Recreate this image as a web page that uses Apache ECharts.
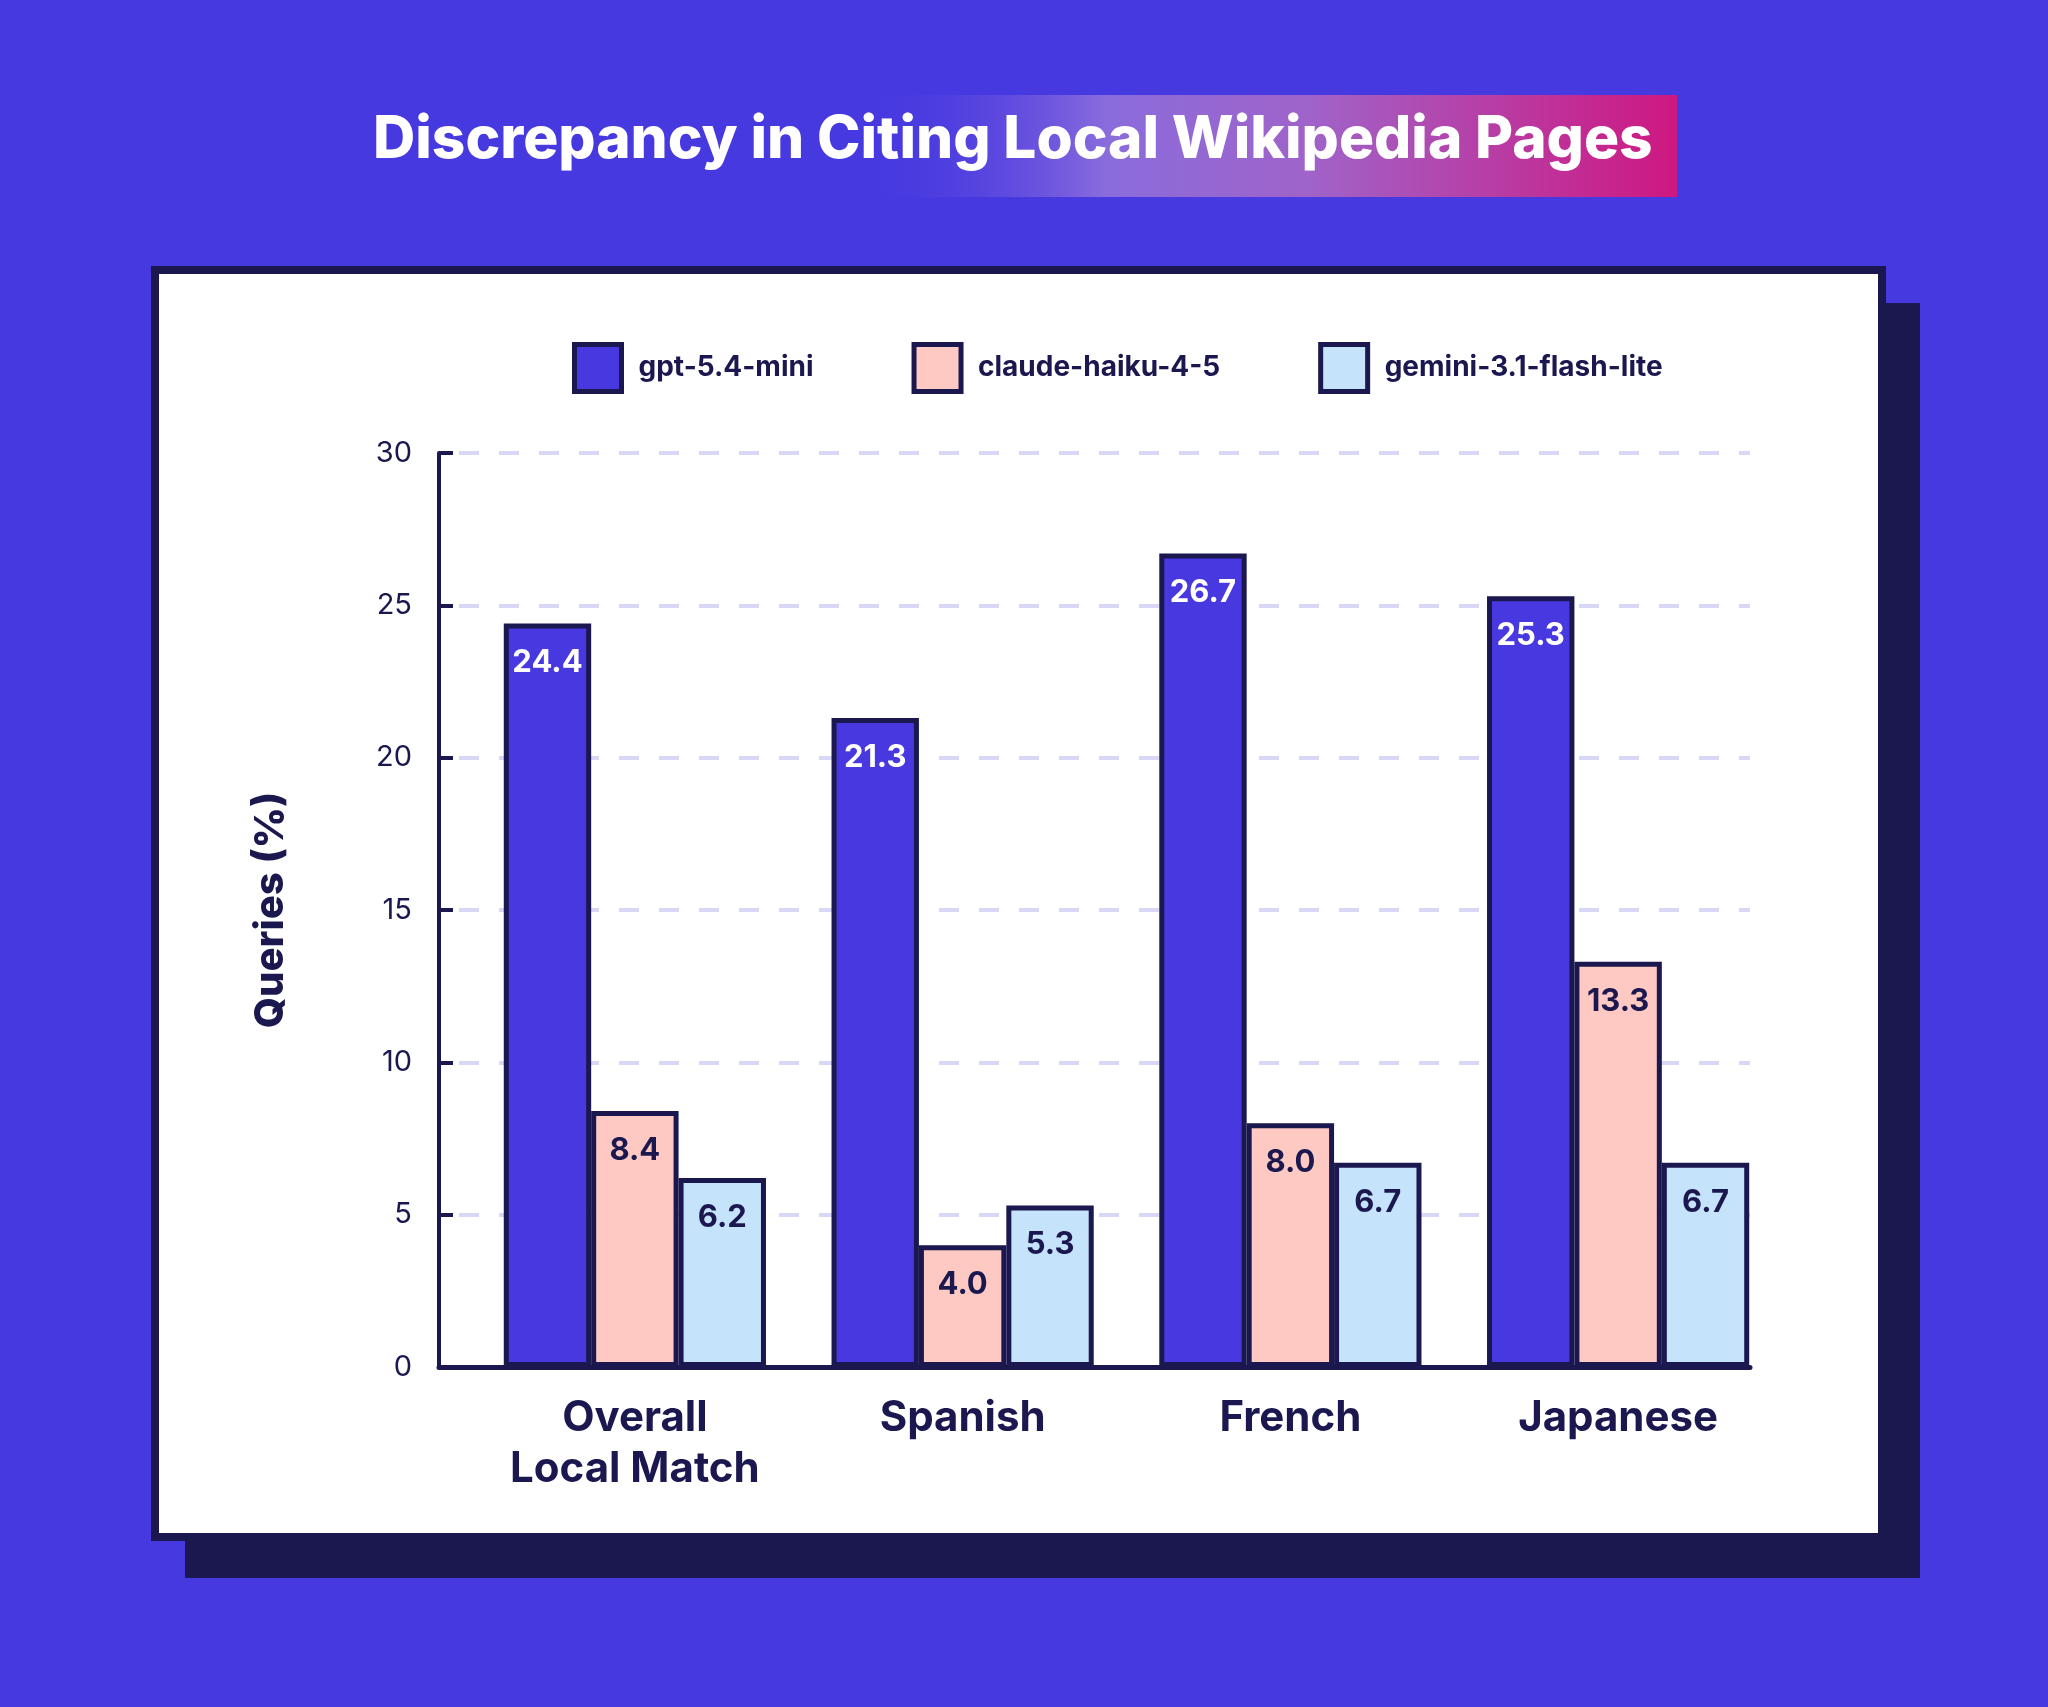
<!DOCTYPE html>
<html>
<head>
<meta charset="utf-8">
<title>Discrepancy in Citing Local Wikipedia Pages</title>
<script src="https://cdn.jsdelivr.net/npm/echarts@6/dist/echarts.min.js"></script>
<style>
  html, body { margin: 0; padding: 0; background: #4739e0; }
  #chart { width: 2048px; height: 1707px; }
</style>
</head>
<body>
<div id="chart"></div>
<script>
// data
const categories = ['Overall\nLocal Match', 'Spanish', 'French', 'Japanese']
const seriesNames = ['gpt-5.4-mini', 'claude-haiku-4-5', 'gemini-3.1-flash-lite']
const gptValues = [24.4, 21.3, 26.7, 25.3]
const claudeValues = [8.4, 4.0, 8.0, 13.3]
const geminiValues = [6.2, 5.3, 6.7, 6.7]
const yTicks = [0, 5, 10, 15, 20, 25, 30]

const navy = '#1b1850'
const barColors = ['#4838e0', '#fdc9c2', '#c5e3fa']
const labelColors = ['#ffffff', navy, navy]
const font = 'Inter, "Noto Sans", sans-serif'

const myChart = echarts.init(document.getElementById('chart'))

function makeBar (name, values, idx) {
    return {
        name: name,
        type: 'bar',
        xAxisIndex: 1,
        yAxisIndex: 1,
        data: values,
        barGap: '0%',
        barCategoryGap: '20%',
        itemStyle: {
            color: barColors[idx],
            borderColor: navy,
            borderWidth: 5
        },
        label: {
            show: true,
            position: 'insideTop',
            distance: 24,
            color: labelColors[idx],
            fontFamily: font,
            fontWeight: 'bold',
            fontSize: 31,
            formatter: p => p.value.toFixed(1)
        },
        z: 5
    }
}

myChart.setOption({
    backgroundColor: '#4739e0',
    textStyle: { fontFamily: font },
    graphic: [
        // title highlight
        {
            type: 'rect',
            z: -10,
            shape: { x: 862, y: 95, width: 815, height: 102 },
            style: {
                fill: new echarts.graphic.LinearGradient(0, 0, 1, 0, [
                    { offset: 0, color: 'rgba(71,57,224,0)' },
                    { offset: 0.3, color: '#8a6cdc' },
                    { offset: 0.55, color: '#a063c9' },
                    { offset: 1, color: '#cf1780' }
                ])
            }
        },
        // panel shadow
        {
            type: 'rect',
            z: -10,
            shape: { x: 185, y: 303, width: 1735, height: 1275 },
            style: { fill: navy }
        },
        // white panel
        {
            type: 'rect',
            z: -9,
            shape: { x: 155, y: 270, width: 1727, height: 1267 },
            style: { fill: '#ffffff', stroke: navy, lineWidth: 8 }
        }
    ],
    title: {
        text: 'Discrepancy in Citing Local Wikipedia Pages',
        left: 373,
        top: 111,
        padding: 0,
        textStyle: {
            color: '#ffffff',
            fontFamily: font,
            fontWeight: 800,
            fontSize: 58.5
        }
    },
    legend: {
        data: seriesNames,
        left: 567,
        top: 337,
        icon: 'rect',
        itemWidth: 47,
        itemHeight: 47,
        itemGap: 98,
        itemStyle: { borderColor: navy, borderWidth: 5 },
        textStyle: {
            color: navy,
            fontFamily: font,
            fontWeight: 'bold',
            fontSize: 28,
            padding: [0, 0, 0, 12]
        }
    },
    grid: [
        { left: 439, right: 298, top: 453, bottom: 340 },
        { left: 471, width: 1311, top: 453, bottom: 340 }
    ],
    xAxis: [
        {
            type: 'category',
            gridIndex: 0,
            data: categories,
            axisLine: { lineStyle: { color: navy, width: 5 } },
            axisTick: { show: false },
            axisLabel: { show: false }
        },
        {
            type: 'category',
            gridIndex: 1,
            data: categories,
            axisLine: { show: false },
            axisTick: { show: false },
            axisLabel: {
                margin: 26,
                color: navy,
                fontFamily: font,
                fontWeight: 'bold',
                fontSize: 42,
                lineHeight: 51
            }
        }
    ],
    yAxis: [
        {
            type: 'value',
            gridIndex: 0,
            min: yTicks[0],
            max: yTicks[yTicks.length - 1],
            interval: 5,
            name: 'Queries (%)',
            nameLocation: 'middle',
            nameGap: 148,
            nameTextStyle: {
                color: navy,
                fontFamily: font,
                fontWeight: 800,
                fontSize: 40
            },
            axisLine: { show: true, lineStyle: { color: navy, width: 4 } },
            axisTick: { show: true, inside: true, length: 14, lineStyle: { color: navy, width: 4 } },
            axisLabel: {
                margin: 27,
                color: navy,
                fontFamily: font,
                fontSize: 29
            },
            splitLine: {
                show: true,
                lineStyle: {
                    color: '#d9d7f8',
                    width: 4,
                    type: [20, 20],
                    dashOffset: 20
                }
            }
        },
        {
            type: 'value',
            gridIndex: 1,
            min: yTicks[0],
            max: yTicks[yTicks.length - 1],
            interval: 5,
            show: false
        }
    ],
    series: [
        makeBar(seriesNames[0], gptValues, 0),
        makeBar(seriesNames[1], claudeValues, 1),
        makeBar(seriesNames[2], geminiValues, 2)
    ]
})
</script>
</body>
</html>
